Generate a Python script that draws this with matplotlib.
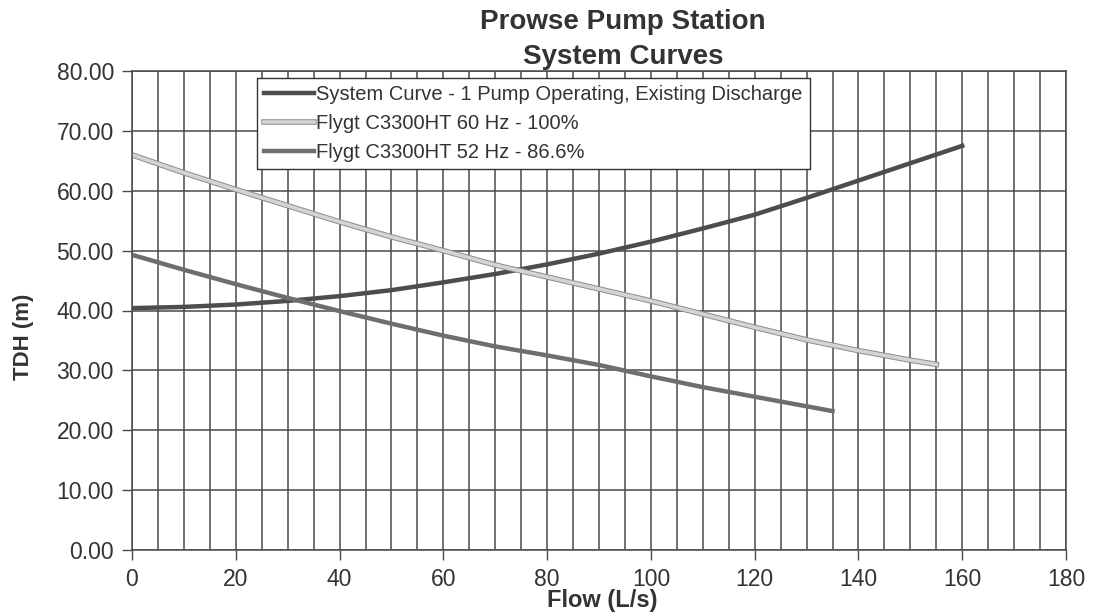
import numpy as np
import matplotlib
matplotlib.use("Agg")
import matplotlib.pyplot as plt
from matplotlib.ticker import MultipleLocator, FormatStrFormatter
import matplotlib.patheffects as pe

plt.rcParams['font.family'] = ['Liberation Sans', 'DejaVu Sans']

# Data
sys_flow = [0, 10, 20, 30, 40, 50, 60, 70, 80, 90, 100, 110, 120, 130, 140, 150, 160]
sys_tdh = [40.4, 40.6, 41.0, 41.6, 42.4, 43.4, 44.7, 46.1, 47.7, 49.5, 51.5, 53.7, 56.0, 58.8, 61.7, 64.6, 67.5]

p60_flow = [0, 10, 20, 30, 40, 50, 60, 70, 80, 90, 100, 110, 120, 130, 140, 150, 155]
p60_tdh = [66.0, 63.0, 60.2, 57.5, 54.8, 52.3, 50.0, 47.6, 45.6, 43.6, 41.6, 39.4, 37.2, 35.1, 33.3, 31.7, 31.0]

p52_flow = [0, 10, 20, 30, 40, 50, 60, 70, 80, 90, 100, 110, 120, 130, 135]
p52_tdh = [49.3, 46.8, 44.4, 42.1, 39.9, 37.8, 35.8, 34.0, 32.5, 30.9, 29.0, 27.2, 25.6, 24.0, 23.2]

labels = ["System Curve - 1 Pump Operating, Existing Discharge",
          "Flygt C3300HT 60 Hz - 100%",
          "Flygt C3300HT 52 Hz - 86.6%"]

W, H = 1095, 615
fig = plt.figure(figsize=(W / 100, H / 100), dpi=100)
ax = fig.add_axes([132 / W, 1 - 550 / H, 934 / W, 479 / H])

grid_col = '#4a4a4a'
ax.set_xlim(0, 180)
ax.set_ylim(0, 80)
ax.xaxis.set_major_locator(MultipleLocator(20))
ax.xaxis.set_minor_locator(MultipleLocator(5))
ax.yaxis.set_major_locator(MultipleLocator(10))
ax.yaxis.set_major_formatter(FormatStrFormatter('%.2f'))
ax.grid(which='major', color=grid_col, lw=1.1)
ax.grid(which='minor', axis='x', color=grid_col, lw=1.1)
ax.set_axisbelow(True)
ax.tick_params(which='major', direction='out', length=7, width=1, color=grid_col,
               labelsize=16.5, labelcolor='#333333', pad=6)
ax.tick_params(which='minor', length=0)
for s in ax.spines.values():
    s.set_color(grid_col)
    s.set_linewidth(1.1)

ax.plot(sys_flow, sys_tdh, color='#4d4d4d', lw=3.2, label=labels[0])
ax.plot(p60_flow, p60_tdh, color='#d4d4d4', lw=2.6, label=labels[1],
        path_effects=[pe.Stroke(linewidth=4, foreground='#8c8c8c'), pe.Normal()])
ax.plot(p52_flow, p52_tdh, color='#6e6e6e', lw=3.2, label=labels[2])

leg = ax.legend(loc='upper left', bbox_to_anchor=(257 / W, 1 - 78 / H),
                bbox_transform=fig.transFigure, borderaxespad=0, fontsize=14.5,
                frameon=True, fancybox=False, edgecolor='#333333', framealpha=1,
                handlelength=2.5, handletextpad=0.1, borderpad=0.35, labelspacing=0.5)
leg.get_frame().set_linewidth(1.0)
for t in leg.get_texts():
    t.set_color('#333333')

fig.text(623 / W, 1 - 22 / H, "Prowse Pump Station", ha='center', va='center',
         fontsize=20, fontweight='bold', color='#333333')
fig.text(623 / W, 1 - 57 / H, "System Curves", ha='center', va='center',
         fontsize=20, fontweight='bold', color='#333333')
fig.text(602 / W, 1 - 601 / H, "Flow (L/s)", ha='center', va='center',
         fontsize=17, fontweight='bold', color='#333333')
fig.text(23 / W, 1 - 337 / H, "TDH (m)", ha='center', va='center', rotation=90,
         fontsize=16, fontweight='bold', color='#333333')

fig.savefig("out.png", dpi=100, facecolor='white')
